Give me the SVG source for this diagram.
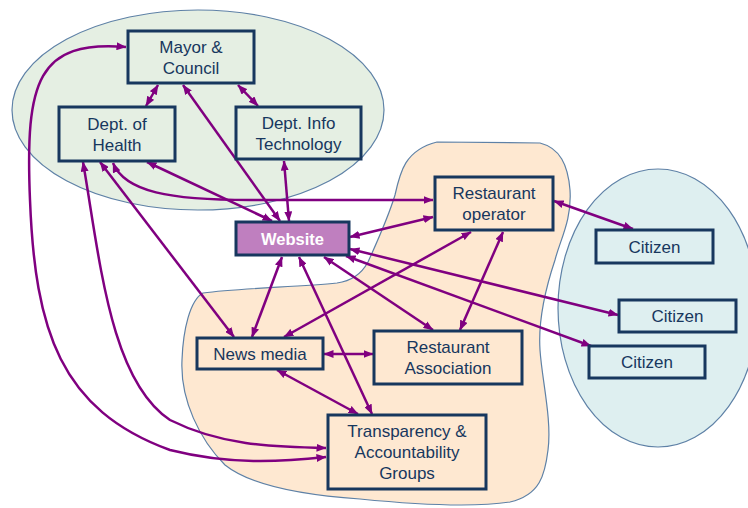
<svg xmlns="http://www.w3.org/2000/svg" width="748" height="508" viewBox="0 0 748 508">
  <style>
    .region { stroke: #5E81A6; stroke-width: 1.2; }
    .box { fill: none; stroke: #17375E; stroke-width: 3; }
    .web { fill: #BF7FBF; stroke: #17375E; stroke-width: 3; }
    .lbl { font-family: "Liberation Sans", Arial, sans-serif; font-size: 17px; fill: #17375E; text-anchor: middle; }
    .wlbl { font-family: "Liberation Sans", Arial, sans-serif; font-size: 16.5px; font-weight: bold; fill: #FFFFFF; text-anchor: middle; }
    .link { fill: none; stroke: #800080; stroke-width: 2.5; marker-start: url(#head); marker-end: url(#head); }
  </style>
  <defs>
    <marker id="head" viewBox="0 0 10 8" refX="9.5" refY="4" markerWidth="10" markerHeight="8" markerUnits="userSpaceOnUse" orient="auto-start-reverse">
      <path d="M0,0 L10,4 L0,8 z" fill="#800080"/>
    </marker>
  </defs>

  <rect width="748" height="508" fill="#FFFFFF"/>

  <!-- stakeholder regions -->
  <g id="regions">
    <ellipse class="region" cx="198" cy="110" rx="186" ry="100" fill="#E5EFE3"/>
    <path class="region" fill="#FEE8D1" d="M203,293 C240,288 300,287 337,283 C352,281 362,273 368,262 C378,240 388,218 395,195 C400,172 405,150 437,142 L540,143 C560,148 568,165 570,190 C572,220 560,240 555,260 C545,290 538,320 540,350 C542,380 552,420 548,450 C545,475 540,495 510,502 C470,508 400,503 360,499 C300,495 250,485 225,465 C200,440 180,400 182,360 C183,330 190,300 203,293 Z"/>
    <ellipse class="region" cx="658" cy="308" rx="100" ry="139" fill="#DEEFF0"/>
  </g>

  <!-- connectors -->
  <g id="connectors">
    <path class="link" d="M158,85 L146,106"/>
    <path class="link" d="M238,85 L258,106"/>
    <path class="link" d="M183,85 L280,221"/>
    <path class="link" d="M284,161 L289,221"/>
    <path class="link" d="M147,162 L272,221"/>
    <path class="link" d="M113,163 C125,192 170,200 250,200 L433,200"/>
    <path class="link" d="M100,162 L234,337"/>
    <path class="link" d="M83,162 C100,260 110,380 170,420 C220,445 270,447 326,448"/>
    <path class="link" d="M126,47 C38,40 25,80 30,200 C35,330 60,410 170,450 C230,465 280,462 326,457"/>
    <path class="link" d="M350,237 L433,217"/>
    <path class="link" d="M350,249 L618,315"/>
    <path class="link" d="M346,256 L591,346"/>
    <path class="link" d="M324,257 L433,330"/>
    <path class="link" d="M282,257 L252,337"/>
    <path class="link" d="M299,257 L372,414"/>
    <path class="link" d="M554,201 L633,229"/>
    <path class="link" d="M471,232 L284,337"/>
    <path class="link" d="M503,232 L460,330"/>
    <path class="link" d="M324,354 L373,354"/>
    <path class="link" d="M277,370 L358,414"/>
  </g>

  <!-- nodes -->
  <g id="mayor">
    <rect class="box" x="128" y="31" width="126" height="52"/>
    <text class="lbl" x="191" y="52.5">Mayor &amp;</text>
    <text class="lbl" x="191" y="73.5">Council</text>
  </g>
  <g id="health">
    <rect class="box" x="59" y="107" width="116" height="54"/>
    <text class="lbl" x="117" y="129.5">Dept. of</text>
    <text class="lbl" x="117" y="150.5">Health</text>
  </g>
  <g id="infotech">
    <rect class="box" x="236" y="107" width="125" height="52"/>
    <text class="lbl" x="298.5" y="128.5">Dept. Info</text>
    <text class="lbl" x="298.5" y="149.5">Technology</text>
  </g>
  <g id="website">
    <rect class="web" x="236" y="222" width="113" height="33"/>
    <text class="wlbl" x="292.5" y="244.5">Website</text>
  </g>
  <g id="operator">
    <rect class="box" x="435" y="177" width="118" height="53"/>
    <text class="lbl" x="494" y="199">Restaurant</text>
    <text class="lbl" x="494" y="220">operator</text>
  </g>
  <g id="citizen1">
    <rect class="box" x="596" y="230" width="117" height="33"/>
    <text class="lbl" x="654.5" y="252.5">Citizen</text>
  </g>
  <g id="citizen2">
    <rect class="box" x="619" y="300" width="117" height="32"/>
    <text class="lbl" x="677.5" y="322">Citizen</text>
  </g>
  <g id="citizen3">
    <rect class="box" x="589" y="346" width="116" height="32"/>
    <text class="lbl" x="647" y="368">Citizen</text>
  </g>
  <g id="news">
    <rect class="box" x="197" y="338" width="126" height="31"/>
    <text class="lbl" x="260" y="359.5">News media</text>
  </g>
  <g id="association">
    <rect class="box" x="374" y="331" width="148" height="53"/>
    <text class="lbl" x="448" y="353">Restaurant</text>
    <text class="lbl" x="448" y="374">Association</text>
  </g>
  <g id="transparency">
    <rect class="box" x="328" y="415" width="158" height="74"/>
    <text class="lbl" x="407" y="437">Transparency &amp;</text>
    <text class="lbl" x="407" y="458">Accountability</text>
    <text class="lbl" x="407" y="479">Groups</text>
  </g>
</svg>
